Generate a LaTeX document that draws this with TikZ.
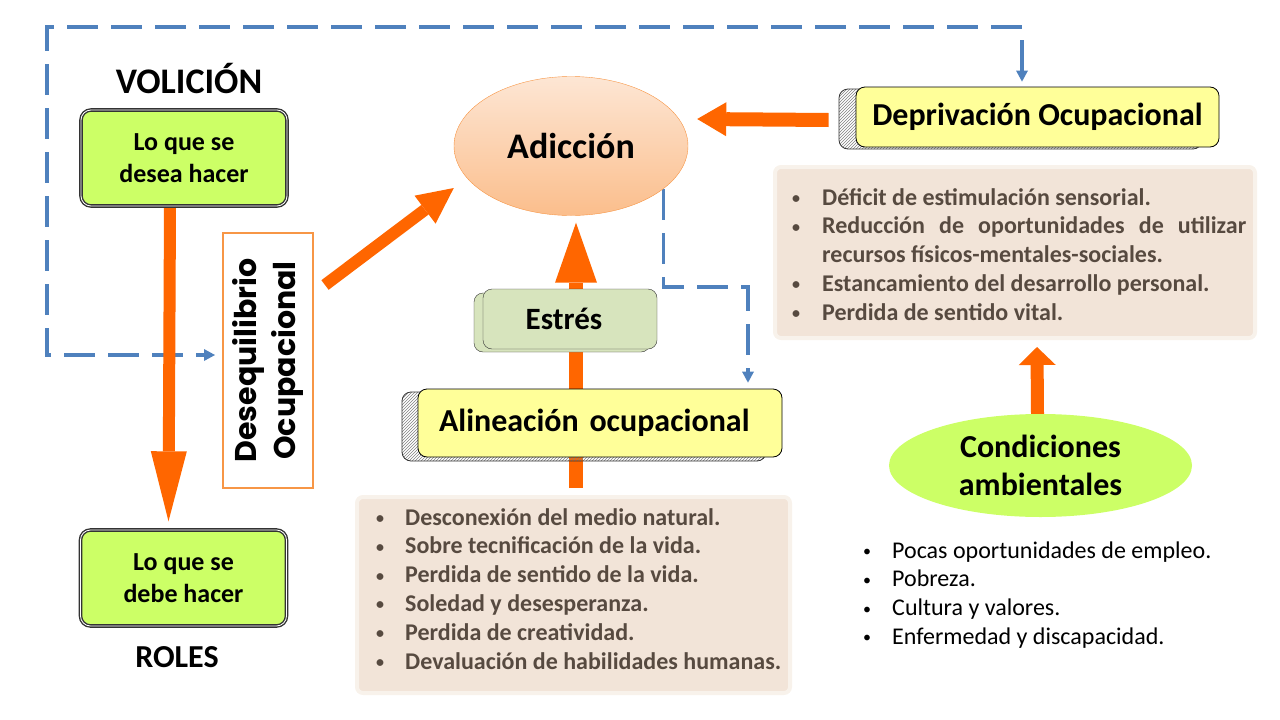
\documentclass[tikz,border=0pt]{standalone}
\usepackage{fontspec}
\setmainfont{Carlito}
\newfontfamily\geofont{Poppins}
\usetikzlibrary{positioning, arrows.meta, shapes.geometric, patterns, backgrounds}

\definecolor{naranja}{HTML}{FF6600}
\definecolor{lima}{HTML}{CCFF66}
\definecolor{amarillo}{HTML}{FFFF99}
\definecolor{oliva}{HTML}{D7E4BD}
\definecolor{azul}{HTML}{4F81BD}
\definecolor{marron}{HTML}{F2E4D8}
\definecolor{textomarron}{HTML}{574A40}
\definecolor{borde}{HTML}{F79646}
\definecolor{melocotonA}{HTML}{FDE6D4}
\definecolor{melocotonB}{HTML}{FBBE8C}

% vineta pequena de las listas
\newcommand{\punto}{\raisebox{1.5pt}{\fontsize{16}{16}\selectfont•}}

\begin{document}
\begin{tikzpicture}[x=1pt, y=-1pt]
    % Estilos
    \tikzstyle{greenbox}=[draw=black!80, double=white, double distance=0.8pt, line width=1.4pt, fill=lima, rounded corners=10pt, minimum width=206pt, minimum height=96pt, align=center, font=\bfseries\fontsize{26}{32}\selectfont]
    \tikzstyle{titlebox}=[draw=black, line width=0.8pt, fill=amarillo, rounded corners=9pt, font=\bfseries\fontsize{32}{38}\selectfont]
    \tikzstyle{hatchbox}=[draw=black!80, line width=0.8pt, pattern=north east lines, pattern color=black!50, rounded corners=9pt]
    \tikzstyle{listbox}=[fill=marron, draw=marron!50, line width=4pt, rounded corners=6pt]
    \tikzstyle{listtext}=[anchor=base west, inner sep=0pt, font=\bfseries\fontsize{24}{28.8}\selectfont]
    \tikzstyle{heading}=[anchor=base, font=\bfseries\fontsize{36}{40}\selectfont]
    \tikzstyle{bigarrow}=[draw=naranja, line width=13pt]
    \tikzstyle{link}=[draw=azul, line width=3.2pt, dash pattern=on 31pt off 13pt]

    \useasboundingbox (0,0) rectangle (1280,720);

    % Volicion y roles
    \node[heading] (volicion) at (189,93) {VOLICIÓN};
    \node[greenbox] (desea) at (184,158) {Lo que se\\desea hacer};
    \node[greenbox] (debe) at (183.5,578) {Lo que se\\debe hacer};
    \node[heading, font=\bfseries\fontsize{32}{38}\selectfont] (roles) at (177,667) {ROLES};

    \node[draw=borde, line width=2pt, minimum width=255pt, minimum height=90pt, rotate=90, align=center, font=\geofont\bfseries\fontsize{30}{39}\selectfont] (deseq) at (268,360.5) {Desequilibrio\\Ocupacional};

    % Adiccion
    \node[ellipse, draw=borde, top color=melocotonA, bottom color=melocotonB, minimum width=234pt, minimum height=139pt, font=\bfseries\fontsize{36}{42}\selectfont] (adic) at (571,146) {Adicción};

    % Deprivacion ocupacional
    \node[hatchbox, minimum width=363pt, minimum height=60pt] (depriv-sombra) at (1020.5,119) {};
    \node[titlebox, minimum width=363pt, minimum height=60pt] (depriv) at (1037.5,117) {Deprivación Ocupacional};
    \node[listbox, minimum width=480pt, minimum height=171pt] (depriv-lista) at (1015,252.5) {};
    \node[listtext, text=textomarron] (depriv-items) at (792,205) {\begin{tabular}[t]{@{}p{30pt}@{}p{424pt}@{}}
        \punto & Déficit de estimulación sensorial.\\
        \punto & Reducción de oportunidades de utilizar\linebreak recursos físicos-mentales-sociales.\\
        \punto & Estancamiento del desarrollo personal.\\
        \punto & Perdida de sentido vital.
    \end{tabular}};

    % Estres y alineacion
    \node[draw=black!80, fill=oliva, rounded corners=9pt, minimum width=176pt, minimum height=59pt] (estres-sombra) at (562,322.5) {};
    \node[draw=black!80, fill=oliva, rounded corners=9pt, minimum width=174pt, minimum height=60pt, font=\bfseries\fontsize{31}{36}\selectfont] (estres) at (570,319) {Estrés\hspace*{12pt}};

    \node[hatchbox, minimum width=364pt, minimum height=69pt] (alin-sombra) at (584,426.5) {};
    \node[titlebox, minimum height=68pt, text width=322pt, inner xsep=21pt, align=left] (alin) at (600,423) {Alineación ocupacional};
    \node[listbox, minimum width=433pt, minimum height=196pt] (alin-lista) at (573.5,595) {};
    \node[listtext, text=textomarron] (alin-items) at (376,525) {\begin{tabular}[t]{@{}p{29pt}@{}l@{}}
        \punto & Desconexión del medio natural.\\
        \punto & Sobre tecnificación de la vida.\\
        \punto & Perdida de sentido de la vida.\\
        \punto & Soledad y desesperanza.\\
        \punto & Perdida de creatividad.\\
        \punto & Devaluación de habilidades humanas.
    \end{tabular}};

    % Condiciones ambientales
    \node[ellipse, fill=lima, minimum width=303pt, minimum height=103pt, align=center, font=\bfseries\fontsize{32}{38}\selectfont] (cond) at (1040.5,465.5) {Condiciones\\ambientales};
    \node[listtext, font=\fontsize{24}{28.8}\selectfont] (cond-items) at (863,558) {\begin{tabular}[t]{@{}p{29pt}@{}l@{}}
        \punto & Pocas oportunidades de empleo.\\
        \punto & Pobreza.\\
        \punto & Cultura y valores.\\
        \punto & Enfermedad y discapacidad.
    \end{tabular}};

    \begin{pgfonlayer}{background}
        % Conectores discontinuos
        \draw[link, {Triangle[width=12pt,length=11pt,line width=0pt]}-{Triangle[width=12pt,length=11pt,line width=0pt]}] ([xshift=-15.5pt,yshift=5pt]depriv.north) |- (47,27) |- ([xshift=-7pt,yshift=5.5pt]deseq.north);
        \draw[link, -{Triangle[width=12pt,length=11pt,line width=0pt]}] (adic.-25) -- ++(0,98) -| ([xshift=148pt,yshift=6pt]alin.north);

        % Flechas grandes
        \draw[bigarrow, line width=12pt, -{Triangle[width=36pt,length=70pt,line width=0pt]}] ([xshift=-14pt]desea.south) -- ([xshift=-15pt,yshift=8pt]debe.north);
        \draw[bigarrow, line width=12pt, -{Triangle[width=35pt,length=36pt,line width=0pt]}] ([xshift=11pt,yshift=-53pt]deseq.south east) -- ([yshift=-42pt]adic.west);
        \draw[bigarrow, line width=14pt, -{Triangle[width=42pt,length=60pt,line width=0pt]}] ([xshift=2.5pt,yshift=7pt]alin-lista.north) -- ([xshift=5pt,yshift=-7pt]adic.south);
        \draw[bigarrow, line width=14pt, -{Triangle[width=34pt,length=29pt,line width=0pt]}] ([xshift=-27pt,yshift=-3pt]depriv.west) -- ([xshift=9pt,yshift=27pt]adic.east);
        \draw[bigarrow, -{Triangle[width=37pt,length=18pt,line width=0pt]}] ([xshift=-3pt]cond.north) -- ([xshift=22pt,yshift=-7pt]depriv-lista.south);
    \end{pgfonlayer}
\end{tikzpicture}
\end{document}
